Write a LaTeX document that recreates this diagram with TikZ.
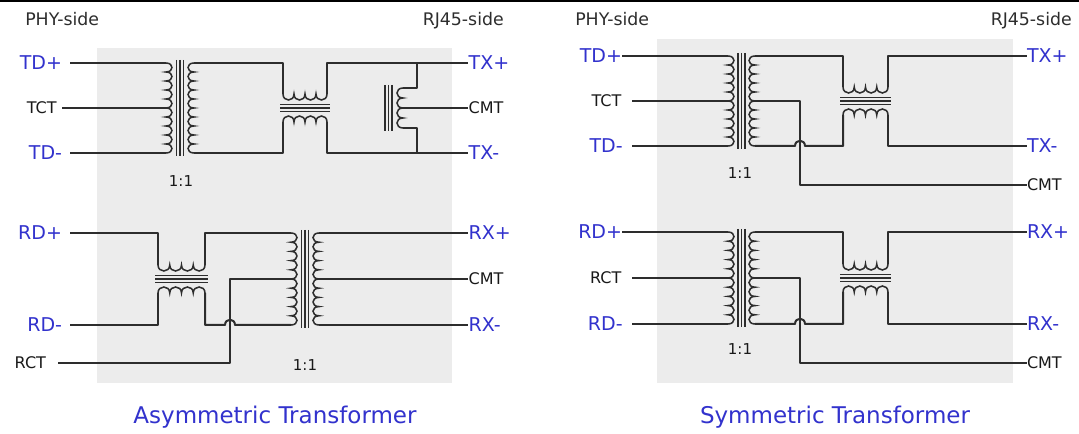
\documentclass[tikz,border=0pt]{standalone}
\usepackage{fontspec}
\setmainfont{DejaVu Sans}
\definecolor{lblue}{RGB}{50,50,205}
\definecolor{wirec}{RGB}{45,45,45}
\definecolor{boxg}{RGB}{236,236,236}
\definecolor{txtc}{RGB}{25,25,25}
\definecolor{sidec}{RGB}{45,45,45}
\newcommand{\mycoilV}[5]{\draw[coilw] (#1,#2) \foreach \k in {1,...,#3}{ .. controls +({#5*1.333},0) and +({#5*1.333},0) .. ++(0,#4)};}
\newcommand{\mycoilH}[5]{\draw[coilw] (#2,#1) \foreach \k in {1,...,#3}{ .. controls +(0,{#5*1.333}) and +(0,{#5*1.333}) .. ++(#4,0)};}
\newcommand{\mycoreV}[3]{\foreach \dd in {-3.5,0,3.5}{\draw[corel] ({#1+(\dd)},#2) -- ({#1+(\dd)},#3);}}
\newcommand{\mycoreH}[3]{\foreach \dd in {-3.5,0,3.5}{\draw[corel] (#2,{#1+(\dd)}) -- (#3,{#1+(\dd)});}}
\begin{document}
\begin{tikzpicture}[x=0.75pt,y=-0.75pt,
 wire/.style={draw=wirec,line width=1.5pt,line join=round},
 coilw/.style={draw=wirec,line width=1.15pt},
 corel/.style={draw=wirec,line width=0.8pt},
 sig/.style={text=lblue,font=\fontsize{14.25}{15}\selectfont,inner sep=0pt},
 ctl/.style={text=txtc,font=\fontsize{12}{13}\selectfont,inner sep=0pt},
 sidel/.style={text=sidec,font=\fontsize{13}{14}\selectfont,inner sep=0pt},
 ratio/.style={text=txtc,font=\fontsize{11.25}{12}\selectfont,inner sep=0pt},
 ttl/.style={text=lblue,font=\fontsize{17.25}{18}\selectfont,inner sep=0pt}]

\useasboundingbox (0,0) rectangle (1079,434);
\fill[white] (0,0) rectangle (1079,434);
\fill[black] (0,0) rectangle (1079,2.5);
\fill[boxg] (97,48) rectangle (452,383);
\fill[boxg] (657,39) rectangle (1013,383);

% ---------------- Left panel labels
\node[sidel,anchor=base west] (phyA) at (25,25.5) {PHY-side};
\node[sidel,anchor=base east] (rjA) at (504,25.5) {RJ45-side};
\node[sig,anchor=east,outer xsep=6pt] (tdpA) at (70,63) {TD+};
\node[ctl,anchor=east,outer xsep=4pt] (tctA) at (62,108) {TCT};
\node[sig,anchor=east,outer xsep=6pt] (tdmA) at (70,153) {TD-};
\node[sig,anchor=west,outer xsep=0.5pt] (txpA) at (468,63) {TX+};
\node[ctl,anchor=west,outer xsep=0.5pt] (cmtA) at (468,108) {CMT};
\node[sig,anchor=west,outer xsep=0.5pt] (txmA) at (468,153) {TX-};
\node[ratio] (r1A) at (181,181) {1:1};
\node[sig,anchor=east,outer xsep=6pt] (rdpA) at (70,233) {RD+};
\node[sig,anchor=east,outer xsep=6pt] (rdmA) at (70,325) {RD-};
\node[ctl,anchor=east,outer xsep=9pt] (rctA) at (58,363) {RCT};
\node[sig,anchor=west,outer xsep=0.5pt] (rxpA) at (468,233) {RX+};
\node[ctl,anchor=west,outer xsep=0.5pt] (cmtA2) at (468,279) {CMT};
\node[sig,anchor=west,outer xsep=0.5pt] (rxmA) at (468,325) {RX-};
\node[ratio] (r2A) at (305,365) {1:1};
\node[ttl,anchor=base] (ttlA) at (275,423.5) {Asymmetric Transformer};

% ---------------- Left top circuit
\draw[wire] (tdpA.east) -- (166,63);
\draw[wire] (tctA.east) -- (166,108);
\draw[wire] (tdmA.east) -- (166,153);
\mycoilV{166}{63}{10}{9}{6}
\mycoreV{180}{60}{156}
\mycoilV{194}{63}{10}{9}{-6}
\draw[wire] (194,63) -- (283,63) -- (283,94);
\mycoilH{94}{283}{4}{11}{6}
\mycoreH{108}{280}{330}
\mycoilH{122}{283}{4}{11}{-6}
\draw[wire] (283,122) -- (283,153) -- (194,153);
\draw[wire] (327,94) -- (327,63) -- (txpA.west);
\draw[wire] (327,122) -- (327,153) -- (txmA.west);
\draw[wire] (417,63) -- (417,88) -- (403,88);
\mycoilV{403}{88}{4}{10}{-6}
\mycoreV{388.5}{85}{131}
\draw[wire] (403,128) -- (417,128) -- (417,153);
\draw[wire] (403,108) -- (cmtA.west);

% ---------------- Left bottom circuit
\draw[wire] (rdpA.east) -- (158,233) -- (158,265);
\mycoilH{265}{158}{4}{11.75}{6}
\mycoreH{279}{155}{208}
\mycoilH{293}{158}{4}{11.75}{-6}
\draw[wire] (rdmA.east) -- (158,325) -- (158,293);
\draw[wire] (205,265) -- (205,233) -- (291,233);
\draw[wire] (205,293) -- (205,325) -- (225,325) .. controls (225,318) and (235,318) .. (235,325) -- (291,325);
\draw[wire] (rctA.east) -- (230,363) -- (230,279) -- (291,279);
\mycoilV{291}{233}{10}{9.2}{6}
\mycoreV{305}{230}{328}
\mycoilV{319}{233}{10}{9.2}{-6}
\draw[wire] (319,233) -- (rxpA.west);
\draw[wire] (319,279) -- (cmtA2.west);
\draw[wire] (319,325) -- (rxmA.west);

% ---------------- Right panel labels
\node[sidel,anchor=base west] (phyB) at (575,25.5) {PHY-side};
\node[sidel,anchor=base east] (rjB) at (1072,25.5) {RJ45-side};
\node[sig,anchor=east,outer xsep=0pt] (tdpB) at (622,56) {TD+};
\node[ctl,anchor=east,outer xsep=8pt] (tctB) at (632,101) {TCT};
\node[sig,anchor=east,outer xsep=7pt] (tdmB) at (632,146) {TD-};
\node[sig,anchor=west,outer xsep=0pt] (txpB) at (1027,56) {TX+};
\node[sig,anchor=west,outer xsep=0pt] (txmB) at (1027,146) {TX-};
\node[ctl,anchor=west,outer xsep=0pt] (cmtB) at (1027,185) {CMT};
\node[ratio] (r1B) at (740,173) {1:1};
\node[sig,anchor=east,outer xsep=0pt] (rdpB) at (622,232) {RD+};
\node[ctl,anchor=east,outer xsep=8pt] (rctB) at (632,278) {RCT};
\node[sig,anchor=east,outer xsep=7pt] (rdmB) at (632,324) {RD-};
\node[sig,anchor=west,outer xsep=0pt] (rxpB) at (1027,232) {RX+};
\node[sig,anchor=west,outer xsep=0pt] (rxmB) at (1027,324) {RX-};
\node[ctl,anchor=west,outer xsep=0pt] (cmtB2) at (1027,363) {CMT};
\node[ratio] (r2B) at (740,349) {1:1};
\node[ttl,anchor=base] (ttlB) at (835,423.5) {Symmetric Transformer};

% ---------------- Right top circuit
\draw[wire] (tdpB.east) -- (728,56);
\draw[wire] (tctB.east) -- (728,101);
\draw[wire] (tdmB.east) -- (728,146);
\mycoilV{728}{56}{10}{9}{6}
\mycoreV{741.5}{53}{149}
\mycoilV{755}{56}{10}{9}{-6}
\draw[wire] (755,56) -- (843,56) -- (843,87);
\mycoilH{87}{843}{4}{11.25}{6}
\mycoreH{101}{840}{891}
\mycoilH{115}{843}{4}{11.25}{-6}
\draw[wire] (888,87) -- (888,56) -- (txpB.west);
\draw[wire] (755,146) -- (795,146) .. controls (795,139) and (805,139) .. (805,146) -- (843,146) -- (843,115);
\draw[wire] (888,115) -- (888,146) -- (txmB.west);
\draw[wire] (755,101) -- (800,101) -- (800,185) -- (cmtB.west);

% ---------------- Right bottom circuit
\draw[wire] (rdpB.east) -- (728,232);
\draw[wire] (rctB.east) -- (728,278);
\draw[wire] (rdmB.east) -- (728,324);
\mycoilV{728}{232}{10}{9.2}{6}
\mycoreV{741.5}{229}{327}
\mycoilV{755}{232}{10}{9.2}{-6}
\draw[wire] (755,232) -- (843,232) -- (843,264);
\mycoilH{264}{843}{4}{11.25}{6}
\mycoreH{278}{840}{891}
\mycoilH{292}{843}{4}{11.25}{-6}
\draw[wire] (888,264) -- (888,232) -- (rxpB.west);
\draw[wire] (755,324) -- (795,324) .. controls (795,317) and (805,317) .. (805,324) -- (843,324) -- (843,292);
\draw[wire] (888,292) -- (888,324) -- (rxmB.west);
\draw[wire] (755,278) -- (800,278) -- (800,363) -- (cmtB2.west);
\end{tikzpicture}
\end{document}
